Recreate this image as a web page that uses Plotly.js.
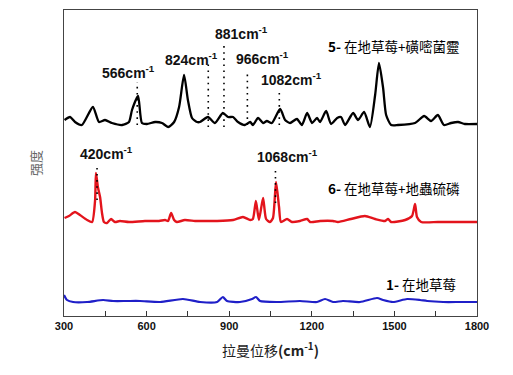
<!DOCTYPE html>
<html>
<head>
<meta charset="utf-8">
<script src="https://cdn.plot.ly/plotly-3.0.1.min.js"></script>
<style>html,body{margin:0;padding:0;background:#fff;}#chart{width:513px;height:375px;}</style>
</head>
<body>
<div id="chart"></div>
<script>
// Series 5 (black)
const x5 = [302,322,340,365,405,427,449,474,511,536,547,569,583,601,631,656,678,700,718,736,750,765,783,794,823,848,877,896,914,932,957,976,986,1005,1023,1037,1055,1085,1103,1121,1146,1164,1183,1201,1219,1230,1252,1270,1292,1306,1321,1350,1368,1390,1411,1430,1444,1459,1470,1488,1513,1575,1608,1633,1658,1680,1706,1731,1756,1800];
const y5 = [196,199,194,191,209,194,196,193,191,194,206,220,193,192,194,193,189,194,209,241,216,198,194,194,199,193,203,199,199,194,191,194,191,198,193,195,193,207,196,193,197,191,203,193,198,194,205,192,198,199,191,203,196,204,189,221,253,228,201,191,191,193,200,195,201,191,193,194,192,192];
// Series 6 (red)
const x6 = [302,318,340,358,384,402,413,416,423,431,438,445,456,471,485,503,536,594,645,667,678,689,700,710,739,776,794,856,914,950,976,986,997,1008,1023,1034,1048,1059,1070,1081,1088,1110,1128,1157,1183,1194,1230,1277,1295,1342,1393,1430,1466,1477,1488,1539,1564,1575,1582,1597,1658,1720,1800];
const y6 = [98,100,104,101,96,94,116,143,129,119,103,94,93,97,94,95,94,95,95,96,95,103,96,94,96,95,95,95,96,99,96,97,115,96,118,97,94,98,134,109,94,97,94,95,97,94,95,95,94,97,100,97,95,97,94,96,100,112,99,94,94,94,94];
// Series 1 (blue)
const x1 = [300,311,333,384,442,478,529,576,649,732,794,856,877,892,939,983,997,1012,1073,1157,1219,1248,1277,1313,1375,1437,1459,1495,1546,1593,1619,1677,1739,1800];
const y1 = [21,16,14,14,16,15,15,15,14,17,14,14,19,15,14,17,19,15,14,15,14,17,14,15,14,18,16,14,17,16,15,14,14,14];

const seriesNum = ['5-', '6-', '1-'];
const seriesNames = ['在地草莓+磺嘧菌靈', '在地草莓+地蟲硫磷', '在地草莓'];
const seriesLabelX = [1499, 1499, 1598];
const seriesLabelY = [270, 128, 32];

// Peak labels
const peakWn = [566, 824, 881, 966, 1082, 420, 1068];
const peakText = ['566', '824', '881', '966', '1082', '420', '1068'];
const peakTextX = [536, 763, 943, 1021, 1128, 453, 1112];
const peakTextY = [244, 257, 283, 258, 237, 163, 160];
const peakLineTop = [234, 252, 272, 246, 226, 151, 148];
const peakLineBottom = [191, 189, 189, 191, 191, 116, 113];

const xTicks = [300, 600, 900, 1200, 1500, 1800];

const traces = [
  {x: x5, y: y5, mode: 'lines', line: {color: '#000000', width: 2.3, shape: 'spline', smoothing: 0.6}, hoverinfo: 'skip'},
  {x: x6, y: y6, mode: 'lines', line: {color: '#e3141c', width: 2.4, shape: 'spline', smoothing: 0.6}, hoverinfo: 'skip'},
  {x: x1, y: y1, mode: 'lines', line: {color: '#1f1fc8', width: 2.2, shape: 'spline', smoothing: 0.6}, hoverinfo: 'skip'}
];

const annotations = [];
const shapes = [];
for (let i = 0; i < peakWn.length; i++) {
  annotations.push({
    x: peakTextX[i], y: peakTextY[i], xref: 'x', yref: 'y',
    text: '<b>' + peakText[i] + 'cm<sup>-1</sup></b>', showarrow: false,
    xanchor: 'center', yanchor: 'middle',
    font: {family: 'Liberation Sans, Arial, sans-serif', size: 14, color: '#111'}
  });
  shapes.push({
    type: 'line', xref: 'x', yref: 'y',
    x0: peakWn[i], x1: peakWn[i], y0: peakLineBottom[i], y1: peakLineTop[i],
    line: {color: '#000', width: 1.6, dash: '1.6px,4.5px'}
  });
}
for (let i = 0; i < seriesNames.length; i++) {
  annotations.push({
    x: seriesLabelX[i], y: seriesLabelY[i], xref: 'x', yref: 'y',
    text: '<b>' + seriesNum[i] + '</b> ' + seriesNames[i], showarrow: false, xanchor: 'center', yanchor: 'middle',
    font: {family: 'Noto Sans CJK TC, Noto Sans CJK SC, sans-serif', size: 13.5, color: '#000'}
  });
}

const layout = {
  width: 513, height: 375,
  margin: {l: 64, r: 36, t: 10, b: 59},
  paper_bgcolor: '#fff', plot_bgcolor: '#fff',
  showlegend: false,
  xaxis: {
    range: [300, 1800], tickvals: xTicks, ticks: 'inside', ticklen: 5, tickcolor: '#333',
    showgrid: false, zeroline: false, showline: true, mirror: true, linecolor: '#444', linewidth: 1,
    tickfont: {family: 'Liberation Sans, Arial, sans-serif', size: 11, color: '#111', weight: 'bold'},
    minor: {dtick: 150, tick0: 300, ticks: 'inside', ticklen: 5, tickcolor: '#333'},
    title: {text: '拉曼位移<b>(cm<sup>-1</sup>)</b>', standoff: 14,
      font: {family: 'Noto Sans CJK SC, sans-serif', size: 14, color: '#222'}}
  },
  yaxis: {
    range: [0, 306], showticklabels: false, ticks: '', showgrid: false, zeroline: false,
    showline: true, mirror: true, linecolor: '#444', linewidth: 1,
    title: {text: '强度', standoff: 18,
      font: {family: 'Noto Sans CJK SC, sans-serif', size: 13, color: '#666'}}
  },
  annotations: annotations,
  shapes: shapes
};

Plotly.newPlot('chart', traces, layout, {displayModeBar: false, staticPlot: true});
</script>
</body>
</html>
